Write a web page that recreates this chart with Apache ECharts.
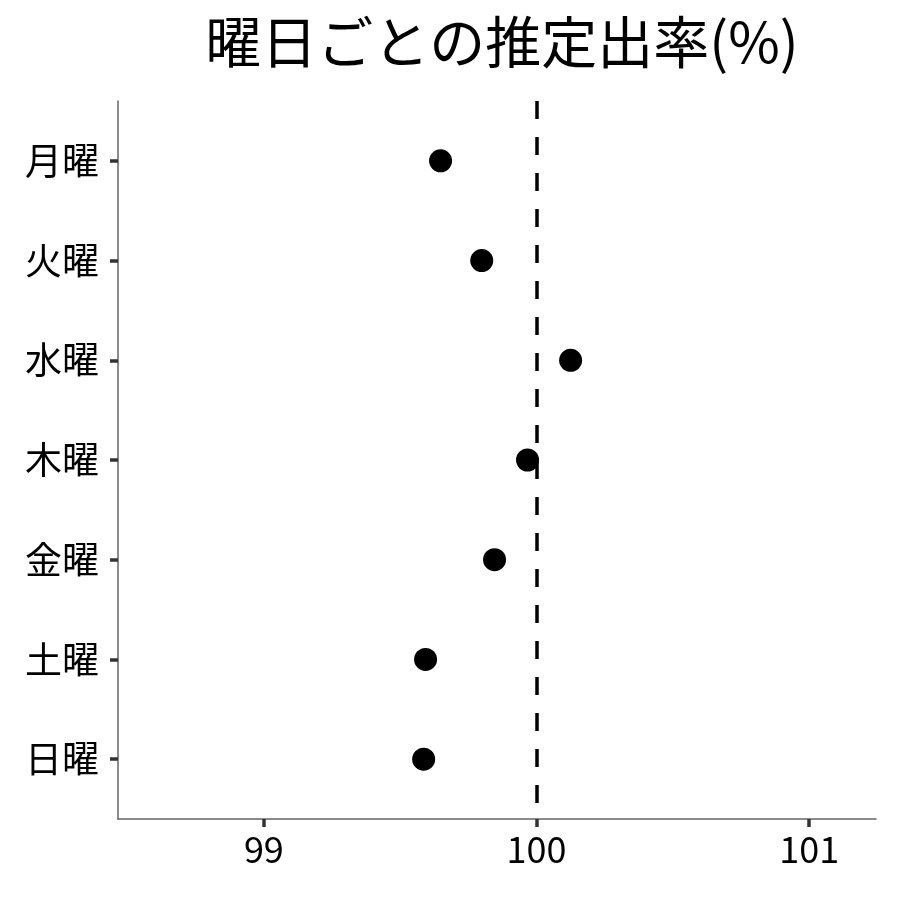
<!DOCTYPE html>
<html>
<head>
<meta charset="utf-8">
<script src="https://cdn.jsdelivr.net/npm/echarts@6/dist/echarts.min.js"></script>
<style>
html, body { margin: 0; padding: 0; background: #fff; }
#chart { width: 900px; height: 900px; }
</style>
</head>
<body>
<div id="chart"></div>
<script>
// 曜日（上から順）
var days = ['月曜', '火曜', '水曜', '木曜', '金曜', '土曜', '日曜'];
// 推定出率(%)
var rates = [99.648, 99.799, 100.125, 99.967, 99.846, 99.593, 99.586];
// x軸の目盛り
var xTicks = [99, 100, 101];
// 基準線
var refLine = 100;

var font = '"Noto Sans CJK JP", "Noto Sans", sans-serif';

var myChart = echarts.init(document.getElementById('chart'));

var points = rates.map(function (v, i) { return [v, i + 1]; });
var yPos = days.map(function (d, i) { return i + 1; });

var option = {
    backgroundColor: '#fff',
    animation: false,
    title: {
        text: '曜日ごとの推定出率(%)',
        left: 497,
        textAlign: 'center',
        top: 9,
        textStyle: { fontFamily: font, fontSize: 56, fontWeight: 'normal', color: '#000' }
    },
    grid: { left: 118, right: 24, top: 101, bottom: 81 },
    xAxis: {
        type: 'value',
        min: 98.465,
        max: 101.245,
        splitLine: { show: false },
        axisLine: { show: true, lineStyle: { color: '#666', width: 1.5 } },
        axisTick: { show: true, customValues: xTicks, length: 8, lineStyle: { color: '#333', width: 3.5 } },
        axisLabel: {
            customValues: xTicks,
            margin: 12,
            color: '#000',
            fontFamily: font,
            fontSize: 36
        }
    },
    yAxis: {
        type: 'value',
        inverse: true,
        min: 0.4,
        max: 7.6,
        splitLine: { show: false },
        axisLine: { show: true, lineStyle: { color: '#666', width: 1.5 } },
        axisTick: { show: true, customValues: yPos, length: 8, lineStyle: { color: '#333', width: 3.5 } },
        axisLabel: {
            customValues: yPos,
            margin: 19,
            color: '#000',
            fontFamily: font,
            fontSize: 37,
            formatter: function (v) { return days[Math.round(v) - 1]; }
        }
    },
    series: [{
        type: 'scatter',
        data: points,
        symbolSize: 23,
        itemStyle: { color: '#000', opacity: 1 },
        markLine: {
            silent: true,
            symbol: 'none',
            label: { show: false },
            lineStyle: { color: '#000', width: 3.5, type: [18, 18], opacity: 1 },
            data: [{ xAxis: refLine }]
        },
        z: 3
    }]
};

myChart.setOption(option);
</script>
</body>
</html>
